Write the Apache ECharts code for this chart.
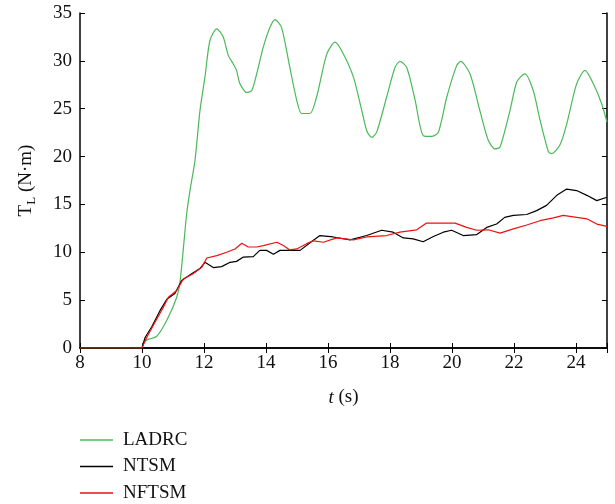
<!DOCTYPE html>
<html><head><meta charset="utf-8">
<script src="https://cdn.jsdelivr.net/npm/echarts@6/dist/echarts.min.js"></script>
<style>html,body{margin:0;padding:0;background:#fff}#c{width:615px;height:504px}</style>
</head><body><div id="c"></div>
<script>
const seriesNames = ['LADRC', 'NTSM', 'NFTSM'];
const xTicks = [8, 10, 12, 14, 16, 18, 20, 22, 24];
const yTicks = [0, 5, 10, 15, 20, 25, 30, 35];

const ladrc = [[8,0],[9,0],[9.98,0],[10.05,0.6],[10.2,0.9],[10.47,1.2],[10.8,2.9],[11.12,5.3],[11.23,7.0],[11.44,14],[11.55,16.5],[11.71,19.6],[11.87,24.8],[12.03,28.3],[12.19,32.1],[12.41,33.35],[12.62,32.5],[12.78,30.6],[12.94,29.7],[13.05,29.0],[13.16,27.6],[13.38,26.7],[13.54,26.9],[13.7,28.65],[13.91,31.4],[14.13,33.5],[14.29,34.3],[14.5,33.5],[14.77,29.3],[14.99,25.9],[15.15,24.5],[15.42,24.5],[15.63,26.2],[15.96,30.7],[16.23,31.95],[16.5,30.7],[16.82,28.3],[17.09,24.8],[17.25,22.7],[17.41,22.0],[17.57,22.55],[17.89,26.2],[18.16,29.3],[18.32,29.95],[18.54,29.3],[18.81,25.9],[19.07,22.2],[19.34,22.1],[19.56,22.55],[19.83,26.2],[20.15,29.5],[20.28,29.95],[20.58,28.65],[20.9,24.8],[21.17,21.7],[21.39,20.8],[21.55,21.0],[21.87,24.8],[22.09,27.8],[22.35,28.65],[22.62,26.9],[22.84,23.8],[23.11,20.5],[23.21,20.3],[23.48,21.2],[23.7,23.4],[24.02,27.6],[24.29,29.0],[24.56,27.6],[24.83,25.5],[25,23.6]];

const ntsm = [[8,0],[9,0],[10.0,0],[10.1,1.1],[10.31,2.2],[10.58,3.9],[10.8,5.1],[11.06,5.7],[11.28,7.05],[11.6,7.75],[11.87,8.3],[12.03,8.95],[12.3,8.4],[12.57,8.5],[12.84,8.95],[13.05,9.05],[13.27,9.5],[13.59,9.55],[13.8,10.2],[14.02,10.2],[14.24,9.8],[14.45,10.2],[14.77,10.2],[15.1,10.2],[15.42,11.0],[15.74,11.75],[16.17,11.6],[16.71,11.3],[17.25,11.75],[17.73,12.3],[18.1,12.1],[18.43,11.5],[18.75,11.4],[19.07,11.1],[19.4,11.65],[19.72,12.1],[19.99,12.3],[20.36,11.75],[20.8,11.85],[21.12,12.6],[21.44,12.95],[21.7,13.65],[21.98,13.85],[22.41,13.95],[22.73,14.35],[23.05,14.9],[23.38,15.95],[23.7,16.6],[24.02,16.45],[24.35,15.95],[24.67,15.4],[25,15.75]];

const nftsm = [[8,0],[9,0],[10.0,0],[10.15,1.1],[10.42,2.7],[10.69,4.25],[10.85,5.3],[11.12,6.0],[11.33,7.2],[11.65,7.75],[11.93,8.45],[12.09,9.4],[12.41,9.65],[12.73,10.0],[13.0,10.35],[13.22,10.95],[13.43,10.55],[13.7,10.55],[13.91,10.7],[14.35,11.05],[14.56,10.7],[14.77,10.25],[14.99,10.35],[15.31,10.9],[15.53,11.2],[15.85,11.05],[16.28,11.5],[16.82,11.3],[17.25,11.6],[17.89,11.75],[18.32,12.1],[18.86,12.35],[19.18,13.05],[19.61,13.05],[20.1,13.05],[20.47,12.6],[20.8,12.3],[21.17,12.35],[21.55,12.0],[21.98,12.45],[22.41,12.85],[22.84,13.3],[23.27,13.6],[23.59,13.85],[24.02,13.65],[24.35,13.5],[24.67,12.95],[25,12.7]];

const colors = ['#4cb85a', '#000000', '#ee1111'];
const font = '"Liberation Serif", "DejaVu Serif", serif';
const chart = echarts.init(document.getElementById('c'), null, {renderer: 'canvas'});
const axisLine = {show: true, lineStyle: {color: '#000', width: 1.5}};
const tick = {show: true, inside: true, length: 5, lineStyle: {color: '#000', width: 1}};
chart.setOption({
  animation: false,
  backgroundColor: '#fff',
  textStyle: {fontFamily: font},
  color: colors,
  grid: {left: 80, right: 8, top: 13, bottom: 156, containLabel: false},
  legend: {
    show: true, icon: 'rect', padding: 0,
    orient: 'vertical', left: 80, top: 430, height: 90, itemWidth: 33, itemHeight: 1.5, itemGap: 6.5,
    textStyle: {fontFamily: font, fontSize: 19, lineHeight: 20, color: '#111', padding: [0, 0, 0, 5]},
    data: seriesNames
  },
  xAxis: [{
    type: 'value', min: 8, max: 25, interval: 2,
    name: '{i|t} (s)', nameLocation: 'middle', nameGap: 40,
    nameTextStyle: {fontFamily: font, fontSize: 19, color: '#111', rich: {i: {fontStyle: 'italic', fontFamily: font, fontSize: 19}}},
    axisLine: axisLine, axisTick: tick, splitLine: {show: false},
    axisLabel: {fontFamily: font, fontSize: 19, color: '#111', margin: 6,
      formatter: v => xTicks.includes(v) ? String(v) : ''}
  }, {
    type: 'value', min: 8, max: 25, interval: 2, position: 'top',
    axisLine: axisLine, axisTick: tick, axisLabel: {show: false}, splitLine: {show: false}
  }],
  yAxis: [{
    type: 'value', min: 0, max: 35, interval: 5,
    name: 'T{s|L} (N·m)', nameLocation: 'middle', nameGap: 42,
    nameTextStyle: {fontFamily: font, fontSize: 19, color: '#111', rich: {s: {fontFamily: font, fontSize: 13, verticalAlign: 'bottom', padding: [10,0,0,0]}}},
    axisLine: axisLine, axisTick: tick, splitLine: {show: false},
    axisLabel: {fontFamily: font, fontSize: 19, color: '#111', margin: 8,
      formatter: v => yTicks.includes(v) ? String(v) : ''}
  }, {
    type: 'value', min: 0, max: 35, interval: 5, position: 'right',
    axisLine: axisLine, axisTick: tick, axisLabel: {show: false}, splitLine: {show: false}
  }],
  series: [
    {name: seriesNames[0], type: 'line', data: ladrc, showSymbol: false, symbol: 'none', smooth: 0.25, lineStyle: {color: colors[0], width: 1.2}, itemStyle: {color: colors[0]}, z: 3},
    {name: seriesNames[1], type: 'line', data: ntsm, showSymbol: false, symbol: 'none', lineStyle: {color: colors[1], width: 1.2}, itemStyle: {color: colors[1]}, z: 4},
    {name: seriesNames[2], type: 'line', data: nftsm, showSymbol: false, symbol: 'none', lineStyle: {color: colors[2], width: 1.2}, itemStyle: {color: colors[2]}, z: 5}
  ]
});
</script></body></html>
